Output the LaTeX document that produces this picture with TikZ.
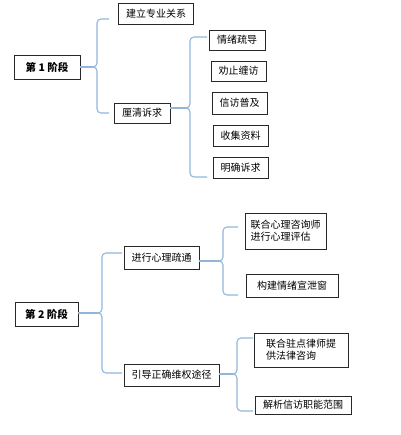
\documentclass[tikz,border=0pt]{standalone}
\usepackage{fontspec}
\setmainfont{Noto Sans CJK SC}
\usepackage{tikz}
\usetikzlibrary{positioning,calc}
\definecolor{bracelblue}{RGB}{145,182,218}
\definecolor{boxgray}{RGB}{40,40,40}

% curly bracket: #1 = name, #2 = x of the bar, #3 = top y, #4 = middle y, #5 = bottom y, #6 = x of the free ends
\newcommand{\kuohao}[6]{%
  \coordinate (#1tip) at (#2-4,#4);
  \coordinate (#1top) at (#6,#3);
  \coordinate (#1bot) at (#6,#5);
  \draw[brace] (#1top) -- (#2+4,#3) to[out=180,in=90] (#2,#3+4) -- (#2,#4-4)
    to[out=-90,in=0] (#1tip) to[out=0,in=90] (#2,#4+4) -- (#2,#5-4)
    to[out=-90,in=180] (#2+4,#5) -- (#1bot);
}

\begin{document}
\begin{tikzpicture}[x=1pt,y=-1pt,
  box/.style={rectangle,draw=boxgray,line width=0.9pt,align=center,inner sep=0pt,minimum height=20pt,font=\fontsize{10}{12}\selectfont},
  stage/.style={box,minimum height=24pt,font=\fontsize{10.5}{12}\selectfont\bfseries},
  brace/.style={draw=bracelblue,line width=1.1pt}
]
\useasboundingbox (0,0) rectangle (400,435);

% stage 1
\node[stage,minimum width=66pt] (s1) at (47,67) {第 1 阶段};
\node[box,minimum width=75pt,minimum height=21pt] (a1) at (156,14) {建立专业关系};
\node[box,minimum width=56pt] (a2) at (142,113) {厘清诉求};
\node[box,minimum width=56pt] (c1) at (237,40) {情绪疏导};
\node[box,minimum width=55pt] (c2) at (238.5,71) {劝止缠访};
\node[box,minimum width=55pt,minimum height=22pt] (c3) at (239.5,103) {信访普及};
\node[box,minimum width=55pt,minimum height=21pt] (c4) at (240.5,135.5) {收集资料};
\node[box,minimum width=55pt,minimum height=21pt] (c5) at (240.5,167.5) {明确诉求};

\kuohao{b1}{97}{19}{67}{113}{109}
\kuohao{b2}{190}{37}{108}{177}{207}
\draw[brace] (s1.east |- b1tip) -- (b1tip);
\draw[brace] (a2.east |- b2tip) -- (b2tip);

% stage 2
\node[stage,minimum width=63pt] (s2) at (46.5,314) {第 2 阶段};
\node[box,minimum width=75pt,minimum height=23pt] (d1) at (161.5,257.5) {进行心理疏通};
\node[box,minimum width=95pt,minimum height=22pt] (d2) at (171.5,375) {引导正确维权途径};
\node[box,minimum width=81pt,minimum height=36pt,align=left] (e1) at (285.5,231) {联合心理咨询师\\进行心理评估};
\node[box,minimum width=92pt,minimum height=23pt] (e2) at (292,285.5) {构建情绪宣泄窗};
\node[box,minimum width=94pt,minimum height=34pt,align=left] (f1) at (301,350) {联合驻点律师提\\供法律咨询};
\node[box,minimum width=96pt,minimum height=18pt] (f2) at (303,405) {解析信访职能范围};

\kuohao{b3}{102}{253}{313}{373}{122}
\kuohao{b4}{223}{227}{261}{295}{238}
\kuohao{b5}{237}{338}{374}{411}{253}
\draw[brace] (s2.east |- b3tip) -- (b3tip);
\draw[brace] (d1.east |- b4tip) -- (b4tip);
\draw[brace] (d2.east |- b5tip) -- (b5tip);
\end{tikzpicture}
\end{document}
